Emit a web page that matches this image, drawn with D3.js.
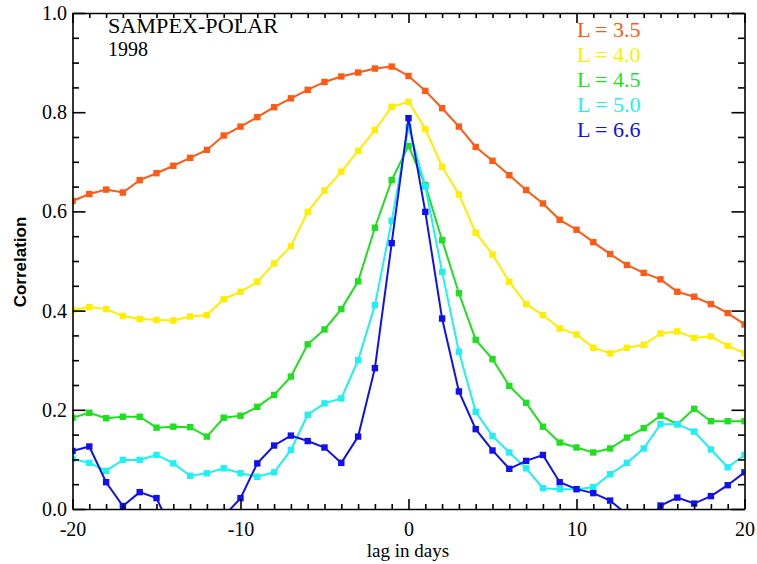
<!DOCTYPE html>
<html>
<head>
<meta charset="utf-8">
<script src="https://cdn.jsdelivr.net/npm/d3@7"></script>
<style>
  body { margin: 0; background: #fff; }
  .axis path, .axis line { stroke: #000; stroke-width: 1.6; }
</style>
</head>
<body>
<div id="vis"></div>
<script>
const FRAME_WIDTH = 757;
const FRAME_HEIGHT = 564;
const PLOT = {left: 72.5, right: 744.5, top: 13, bottom: 509};

// lag in days
const lags = [-20, -19, -18, -17, -16, -15, -14, -13, -12, -11, -10, -9, -8, -7, -6, -5, -4, -3, -2, -1,
  0, 1, 2, 3, 4, 5, 6, 7, 8, 9, 10, 11, 12, 13, 14, 15, 16, 17, 18, 19, 20];

// correlation per L shell
const L35 = [0.621, 0.635, 0.644, 0.638, 0.663, 0.677, 0.692, 0.708, 0.724, 0.753, 0.771, 0.790, 0.810, 0.828,
  0.845, 0.861, 0.872, 0.880, 0.888, 0.892, 0.873, 0.843, 0.808, 0.771, 0.730, 0.702, 0.673, 0.643, 0.616,
  0.583, 0.563, 0.538, 0.514, 0.492, 0.476, 0.463, 0.438, 0.428, 0.413, 0.395, 0.372];
const L40 = [0.401, 0.407, 0.403, 0.389, 0.383, 0.381, 0.380, 0.388, 0.391, 0.423, 0.438, 0.458, 0.495, 0.530,
  0.599, 0.642, 0.680, 0.722, 0.764, 0.811, 0.821, 0.766, 0.690, 0.634, 0.557, 0.513, 0.458, 0.413, 0.391,
  0.364, 0.352, 0.325, 0.314, 0.325, 0.331, 0.354, 0.358, 0.345, 0.348, 0.329, 0.314];
const L45 = [0.184, 0.194, 0.183, 0.186, 0.186, 0.164, 0.166, 0.165, 0.146, 0.184, 0.188, 0.206, 0.230, 0.267,
  0.332, 0.362, 0.403, 0.459, 0.567, 0.663, 0.732, 0.653, 0.542, 0.435, 0.341, 0.302, 0.248, 0.214, 0.166,
  0.134, 0.124, 0.114, 0.122, 0.144, 0.163, 0.188, 0.171, 0.202, 0.177, 0.177, 0.177];
const L50 = [0.101, 0.093, 0.077, 0.099, 0.099, 0.109, 0.092, 0.067, 0.072, 0.082, 0.072, 0.065, 0.074, 0.119,
  0.190, 0.213, 0.223, 0.300, 0.411, 0.581, 0.770, 0.650, 0.478, 0.317, 0.196, 0.147, 0.114, 0.082, 0.042,
  0.040, 0.040, 0.044, 0.070, 0.093, 0.122, 0.171, 0.171, 0.156, 0.120, 0.084, 0.109];
const L66 = [0.117, 0.126, 0.054, 0.006, 0.034, 0.022, -0.050, -0.070, -0.060, -0.015, 0.022, 0.092, 0.128, 0.148,
  0.137, 0.124, 0.093, 0.146, 0.284, 0.536, 0.788, 0.599, 0.384, 0.237, 0.161, 0.118, 0.081, 0.097, 0.109,
  0.054, 0.040, 0.032, 0.017, -0.011, -0.040, 0.007, 0.023, 0.011, 0.026, 0.048, 0.074];

const seriesLabels = ['L = 3.5', 'L = 4.0', 'L = 4.5', 'L = 5.0', 'L = 6.6'];
const seriesValues = [L35, L40, L45, L50, L66];
const colors = ['#ff5a14', '#ffee00', '#1fe01f', '#1ff0f5', '#1010f0'];

const xMajor = [-20, -10, 0, 10, 20];
const xMinor = [-19, -18, -17, -16, -15, -14, -13, -12, -11, -9, -8, -7, -6, -5, -4, -3, -2, -1,
  1, 2, 3, 4, 5, 6, 7, 8, 9, 11, 12, 13, 14, 15, 16, 17, 18, 19];
const yMajor = [0.0, 0.2, 0.4, 0.6, 0.8, 1.0];
const yMinor = [0.05, 0.1, 0.15, 0.25, 0.3, 0.35, 0.45, 0.5, 0.55, 0.65, 0.7, 0.75, 0.85, 0.9, 0.95];

const SERIF = 'Liberation Serif, Times New Roman, serif';

const SVG = d3.select('#vis')
  .append('svg')
    .attr('width', FRAME_WIDTH)
    .attr('height', FRAME_HEIGHT);

const X_SCALE = d3.scaleLinear().domain([-20, 20]).range([PLOT.left, PLOT.right]);
const Y_SCALE = d3.scaleLinear().domain([0, 1]).range([PLOT.bottom, PLOT.top]);

SVG.append('clipPath')
    .attr('id', 'plotclip')
  .append('rect')
    .attr('x', PLOT.left)
    .attr('y', PLOT.top)
    .attr('width', PLOT.right - PLOT.left)
    .attr('height', PLOT.bottom - PLOT.top);

// series, orange first so blue ends up on top
const plotG = SVG.append('g').attr('clip-path', 'url(#plotclip)');
const line = d3.line()
  .x((d, i) => X_SCALE(lags[i]))
  .y((d) => Y_SCALE(d));

seriesValues.forEach((vals, k) => {
  const g = plotG.append('g');
  g.append('path')
    .datum(vals)
    .attr('d', line)
    .attr('fill', 'none')
    .attr('stroke', colors[k])
    .attr('stroke-width', 2);
  g.selectAll('rect')
    .data(vals)
    .enter()
    .append('rect')
      .attr('x', (d, i) => X_SCALE(lags[i]) - 3.2)
      .attr('y', (d) => Y_SCALE(d) - 3.2)
      .attr('width', 6.4)
      .attr('height', 6.4)
      .attr('fill', colors[k]);
});

// axes: ticks point inward on all four sides
function addAxis(axisFn, scale, transform, major, minor, majorLen, minorLen, labels, pad) {
  const gMinor = SVG.append('g')
    .attr('class', 'axis')
    .attr('transform', transform)
    .call(axisFn(scale).tickValues(minor).tickSize(-minorLen).tickFormat(''));
  gMinor.select('.domain').remove();
  const gMajor = SVG.append('g')
    .attr('class', 'axis')
    .attr('transform', transform)
    .call(axisFn(scale).tickValues(major).tickSizeInner(-majorLen).tickSizeOuter(0)
      .tickPadding(pad)
      .tickFormat(labels ? labels : ''));
  gMajor.selectAll('text')
    .attr('font-family', SERIF)
    .attr('font-size', 20)
    .attr('fill', '#000');
  return gMajor;
}

addAxis(d3.axisBottom, X_SCALE, 'translate(0,' + PLOT.bottom + ')', xMajor, xMinor, 10, 5, (d) => String(d), 13);
addAxis(d3.axisTop, X_SCALE, 'translate(0,' + PLOT.top + ')', xMajor, xMinor, 10, 5, null, 3);
addAxis(d3.axisLeft, Y_SCALE, 'translate(' + PLOT.left + ',0)', yMajor, yMinor, 13, 6.5, d3.format('.1f'), 5.5);
addAxis(d3.axisRight, Y_SCALE, 'translate(' + PLOT.right + ',0)', yMajor, yMinor, 13, 6.5, null, 3);

// axis titles
SVG.append('text')
  .attr('x', 408)
  .attr('y', 557)
  .attr('text-anchor', 'middle')
  .attr('font-family', SERIF)
  .attr('font-size', 19)
  .text('lag in days');

SVG.append('text')
  .attr('transform', 'translate(26,262) rotate(-90)')
  .attr('text-anchor', 'middle')
  .attr('font-family', 'Liberation Sans, Arial, sans-serif')
  .attr('font-size', 17)
  .attr('font-weight', 'bold')
  .text('Correlation');

// title block
SVG.append('text')
  .attr('x', 108)
  .attr('y', 33)
  .attr('font-family', SERIF)
  .attr('font-size', 20)
  .attr('textLength', 170)
  .attr('lengthAdjust', 'spacingAndGlyphs')
  .text('SAMPEX-POLAR');
SVG.append('text')
  .attr('x', 108)
  .attr('y', 56)
  .attr('font-family', SERIF)
  .attr('font-size', 20)
  .text('1998');

// legend
SVG.selectAll('.legend')
  .data(seriesLabels)
  .enter()
  .append('text')
    .attr('class', 'legend')
    .attr('x', 577)
    .attr('y', (d, i) => 37 + i * 25)
    .attr('font-family', SERIF)
    .attr('font-size', 22)
    .attr('fill', (d, i) => colors[i])
    .text((d) => d);
</script>
</body>
</html>
